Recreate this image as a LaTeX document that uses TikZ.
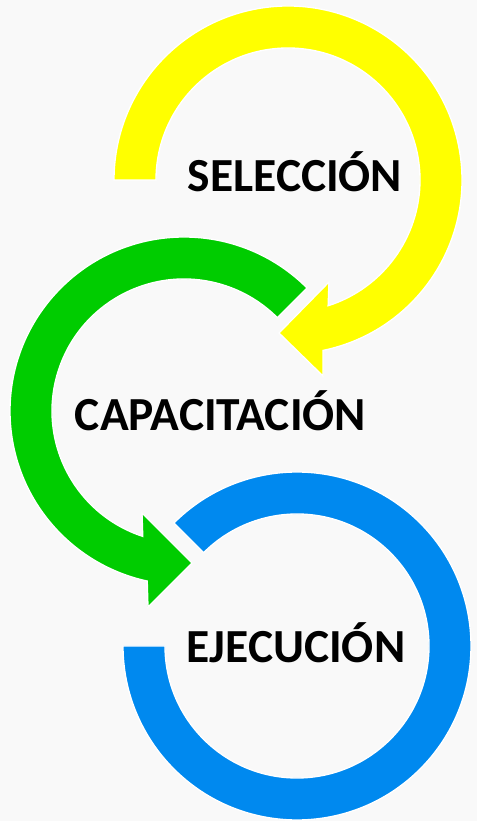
\documentclass[tikz,border=0pt]{standalone}
\usepackage{fontspec}
\setmainfont{Carlito}
\usetikzlibrary{calc}
\definecolor{bgc}{RGB}{249,249,249}
\definecolor{ylw}{RGB}{255,255,0}
\definecolor{grn}{RGB}{0,204,0}
\definecolor{blu}{RGB}{0,137,239}
\tikzset{
  band/.style={draw=white, line width=1pt, line join=miter},
  lbl/.style={anchor=base, inner sep=0pt, font=\fontsize{35.6}{40}\selectfont\bfseries, text=black}
}
\begin{document}
\begin{tikzpicture}[x=0.75pt,y=0.75pt]
\fill[bgc] (0,0) rectangle (477,821);
\useasboundingbox (0,0) rectangle (477,821);
\coordinate (Yc) at (288,641);
\coordinate (Gc) at (184,410);
\coordinate (Bc) at (297,175);
% yellow arrow
\path[band, fill=ylw] ($(Yc)+(180:174)$) -- ($(Yc)+(180:132)$)
  arc[start angle=180, end angle=-72.3, radius=132]
  -- (329,539) -- (279,488) -- (323,445)
  -- ($(Yc)+(-78.4:174)$) arc[start angle=-78.4, end angle=180, radius=174] -- cycle;
% green arrow
\path[band, fill=grn] ($(Gc)+(45:174)$)
  arc[start angle=45, end angle=257.8, radius=174]
  -- (148,214) -- (192,258) -- (142,308)
  -- ($(Gc)+(251.8:132)$) arc[start angle=251.8, end angle=45, radius=132] -- cycle;
% blue ring
\path[band, fill=blu] ($(Bc)+(135:174)$)
  arc[start angle=135, end angle=-180, radius=174]
  -- ($(Bc)+(180:132)$) arc[start angle=-180, end angle=135, radius=132] -- cycle;
\node[lbl] (sel) at (295,629) {SELECCIÓN};
\node[lbl] (cap) at (220.5,390) {CAPACITACIÓN};
\node[lbl] (eje) at (296,158) {EJECUCIÓN};
\end{tikzpicture}
\end{document}
